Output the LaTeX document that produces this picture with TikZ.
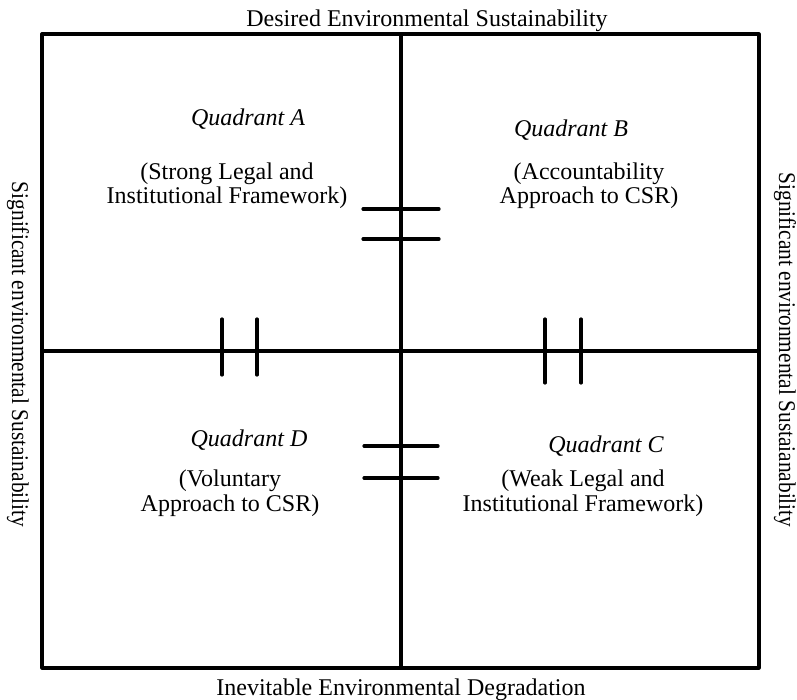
\documentclass[tikz,border=0pt]{standalone}
\usepackage{fontspec}
\setmainfont{Liberation Serif}
\usepackage{tkz-euclide}
\tikzset{
  lbl/.style={font=\fontsize{12}{12.4}\selectfont, inner sep=0pt, align=center},
  qtitle/.style={inner sep=0pt, font=\fontsize{12}{12.4}\selectfont\itshape},
  side/.style={inner sep=0pt, font=\fontsize{12}{12.4}\selectfont, rotate=-90},
}

\begin{document}
\begin{tikzpicture}[x=0.5pt,y=-0.5pt]
\useasboundingbox (0,0) rectangle (797,700);
\tkzSetUpLine[line width=1.6pt,color=black]

% frame and axes
\tkzDefPoint(42,34){A}
\tkzDefPoint(759,34){B}
\tkzDefPoint(759,668){C}
\tkzDefPoint(42,668){D}
\tkzDefPoint(401,34){N}
\tkzDefPoint(401,668){S}
\tkzDefPoint(42,351){W}
\tkzDefPoint(759,351){E}

\tkzDrawPolygon(A,B,C,D)
\tkzDrawSegments(N,S W,E)

% double bars on the axes
\tkzDefPoint(363,209){T1} \tkzDefPoint(439,209){U1}
\tkzDefPoint(363,239){T2} \tkzDefPoint(439,239){U2}
\tkzDefPoint(364,446){T3} \tkzDefPoint(438,446){U3}
\tkzDefPoint(364,478){T4} \tkzDefPoint(438,478){U4}
\tkzDefPoint(222,319){V1} \tkzDefPoint(222,375){P1}
\tkzDefPoint(257,319){V2} \tkzDefPoint(257,375){P2}
\tkzDefPoint(545,319){V3} \tkzDefPoint(545,383){P3}
\tkzDefPoint(581,319){V4} \tkzDefPoint(581,383){P4}

\tkzDrawSegments[line cap=round](T1,U1 T2,U2 T3,U3 T4,U4)
\tkzDrawSegments[line cap=round](V1,P1 V2,P2 V3,P3 V4,P4)

% outer labels
\node[lbl, anchor=base] (top) at (427,27) {Desired Environmental Sustainability};
\node[lbl, anchor=base] (bottom) at (401,695) {Inevitable Environmental Degradation};
\node[side] (west) at (18,354.5) {\scalebox{0.89}[1]{Significant environmental Sustainability}};
\node[side] (east) at (785,350) {\scalebox{0.89}[1]{Significant environmental Sustaianability}};

% quadrants
\node[qtitle, anchor=base] (qA) at (248,126) {Quadrant A};
\node[lbl, anchor=base] (dA) at (227,204) {(Strong Legal and\\Institutional Framework)};
\node[qtitle, anchor=base] (qB) at (571,137) {Quadrant B};
\node[lbl, anchor=base] (dB) at (589,204) {(Accountability\\Approach to CSR)};
\node[qtitle, anchor=base] (qD) at (249,446) {Quadrant D};
\node[lbl, anchor=base] (dD) at (230,511) {(Voluntary\\Approach to CSR)};
\node[qtitle, anchor=base] (qC) at (606,452) {Quadrant C};
\node[lbl, anchor=base] (dC) at (583,511) {(Weak Legal and\\Institutional Framework)};

\end{tikzpicture}
\end{document}
